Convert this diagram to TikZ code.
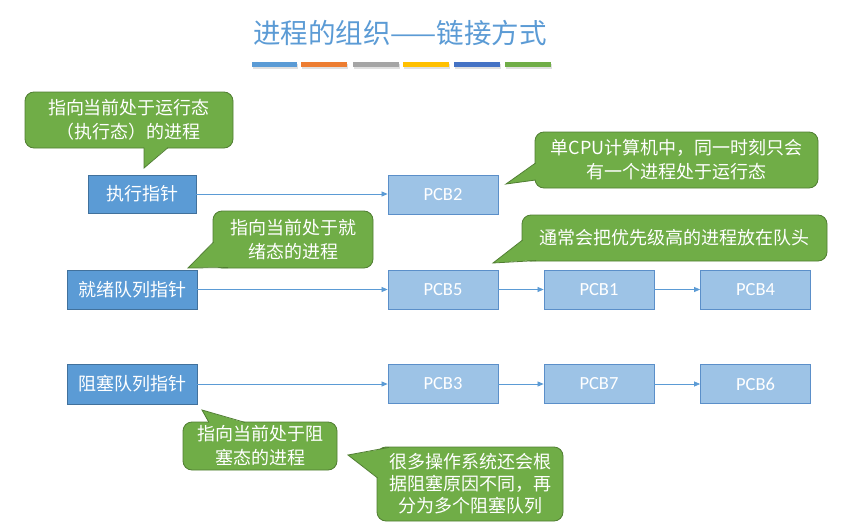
\documentclass[tikz,border=0pt]{standalone}
\usepackage{fontspec}
\setmainfont{Carlito}
\newfontfamily\cjk{Noto Sans CJK SC}
\usetikzlibrary{arrows.meta}

\definecolor{titleblue}{HTML}{5B9BD5}
\definecolor{ptrfill}{HTML}{5B9BD5}
\definecolor{ptrline}{HTML}{41719C}
\definecolor{pcbfill}{HTML}{9DC3E6}
\definecolor{pcbline}{HTML}{5B8FC9}
\definecolor{notefill}{HTML}{70AD47}
\definecolor{noteline}{HTML}{507E32}
\definecolor{linkcol}{HTML}{5B9BD5}
\definecolor{barA}{HTML}{5B9BD5}
\definecolor{barB}{HTML}{ED7D31}
\definecolor{barC}{HTML}{A5A5A5}
\definecolor{barD}{HTML}{FFC000}
\definecolor{barE}{HTML}{4472C4}
\definecolor{barF}{HTML}{70AD47}

\tikzset{
  ptrbox/.style={draw=ptrline, fill=ptrfill, line width=0.8pt, text=white,
    font=\cjk\fontsize{18}{22}\selectfont, inner sep=0pt},
  pcbbox/.style={draw=pcbline, fill=pcbfill, line width=0.8pt, text=white,
    font=\fontsize{18.5}{22}\selectfont, minimum width=110pt, minimum height=39pt, inner sep=0pt},
  notebody/.style={draw=noteline, fill=notefill, line width=0.8pt, rounded corners=9pt,
    text=white, align=center, font=\cjk\fontsize{18}{24}\selectfont, inner sep=0pt},
  tailline/.style={draw=noteline, line width=0.8pt, line join=miter},
  link/.style={draw=linkcol, line width=0.7pt, -{Triangle[length=6pt,width=5pt]}},
  colorbar/.style={line width=5pt},
  barshade/.style={line width=5pt, draw=black!12}
}

\begin{document}
\begin{tikzpicture}[x=1pt,y=-1pt]
\useasboundingbox (0,0) rectangle (847,522);
\fill[white] (0,0) rectangle (847,522);

% heading
\node[font=\cjk\fontsize{27.5}{32}\selectfont, text=titleblue] (title) at (400,33) {进程的组织——链接方式};

% coloured underline bars
\foreach \xa/\xb in {252/297,301/347,353/399,403/449,454/500,505/551}
  \draw[barshade] (\xa+1,66) -- (\xb+1,66);
\draw[colorbar, barA] (252,64.5) -- (297,64.5);
\draw[colorbar, barB] (301,64.5) -- (347,64.5);
\draw[colorbar, barC] (353,64.5) -- (399,64.5);
\draw[colorbar, barD] (403,64.5) -- (449,64.5);
\draw[colorbar, barE] (454,64.5) -- (500,64.5);
\draw[colorbar, barF] (505,64.5) -- (551,64.5);

% queue head pointers
\node[ptrbox, minimum width=108pt, minimum height=38pt] (exec) at (142,194) {执行指针};
\node[ptrbox, minimum width=130pt, minimum height=39pt] (ready) at (132,289.5) {就绪队列指针};
\node[ptrbox, minimum width=130pt, minimum height=40pt] (block) at (132,384) {阻塞队列指针};

% process control blocks
\node[pcbbox] (pcb2) at (443,194.5) {PCB2};
\node[pcbbox] (pcb5) at (443,289.5) {PCB5};
\node[pcbbox] (pcb1) at (599,289.5) {PCB1};
\node[pcbbox] (pcb4) at (755.5,289.5) {PCB4};
\node[pcbbox] (pcb3) at (443,384) {PCB3};
\node[pcbbox] (pcb7) at (599,384) {PCB7};
\node[pcbbox] (pcb6) at (755.5,384) {PCB6};

% links
\draw[link] (exec.east) -- (exec.east -| pcb2.west);
\draw[link] (ready.east) -- (pcb5.west);
\draw[link] (pcb5.east) -- (pcb1.west);
\draw[link] (pcb1.east) -- (pcb4.west);
\draw[link] (block.east) -- (pcb3.west);
\draw[link] (pcb3.east) -- (pcb7.west);
\draw[link] (pcb7.east) -- (pcb6.west);

% callout: running pointer
\node[notebody, minimum width=208pt, minimum height=56pt] (noteA) at (129,120)
  {指向当前处于运行态\\（执行态）的进程};
\coordinate (aL) at (144,147); \coordinate (aT) at (144,168); \coordinate (aR) at (168,147);
\fill[notefill] (aL) -- (aT) -- (aR) -- cycle;
\draw[tailline] (144,147.6) -- (aT) -- (168,147.6);

% callout: single CPU
\node[notebody, minimum width=283pt, minimum height=56pt] (noteB) at (676.5,160)
  {单CPU计算机中，同一时刻只会\\有一个进程处于运行态};
\coordinate (bL) at (536,163); \coordinate (bT) at (506,184); \coordinate (bR) at (536,180);
\fill[notefill] (bL) -- (bT) -- (bR) -- cycle;
\draw[tailline] (535.6,163) -- (bT) -- (535.6,180);

% callout: ready pointer
\node[notebody, minimum width=160pt, minimum height=57pt] (noteC) at (293,239.5)
  {指向当前处于就\\绪态的进程};
\coordinate (cL) at (214,242); \coordinate (cT) at (188,268); \coordinate (cR) at (228,267);
\fill[notefill] (cL) -- (cT) -- (cR) -- cycle;
\draw[tailline] (213.6,242) -- (cT) -- (228,267.6);

% callout: queue order
\node[notebody, minimum width=305pt, minimum height=46pt] (noteD) at (674.5,238)
  {通常会把优先级高的进程放在队头};
\coordinate (dL) at (523,240); \coordinate (dT) at (493,263); \coordinate (dR) at (536,260);
\fill[notefill] (dL) -- (dT) -- (dR) -- cycle;
\draw[tailline] (522.6,240) -- (dT) -- (536,260.6);

% callout: blocked pointer
\node[notebody, minimum width=154pt, minimum height=48pt] (noteE) at (260,446)
  {指向当前处于阻\\塞态的进程};
\coordinate (eL) at (209,423); \coordinate (eT) at (202,410); \coordinate (eR) at (245,423);
\fill[notefill] (eL) -- (eT) -- (eR) -- cycle;
\draw[tailline] (209,422.4) -- (eT) -- (245,422.4);

% callout: several blocked queues
\node[notebody, minimum width=186pt, minimum height=74pt,
      font=\cjk\fontsize{18}{22}\selectfont] (noteF) at (470,484)
  {很多操作系统还会根\\据阻塞原因不同，再\\分为多个阻塞队列};
\coordinate (fL) at (389,448); \coordinate (fT) at (348,455); \coordinate (fR) at (378,478);
\fill[notefill] (fL) -- (fT) -- (fR) -- cycle;
\draw[tailline] (389,447.4) -- (fT) -- (377.6,478);
\end{tikzpicture}
\end{document}
